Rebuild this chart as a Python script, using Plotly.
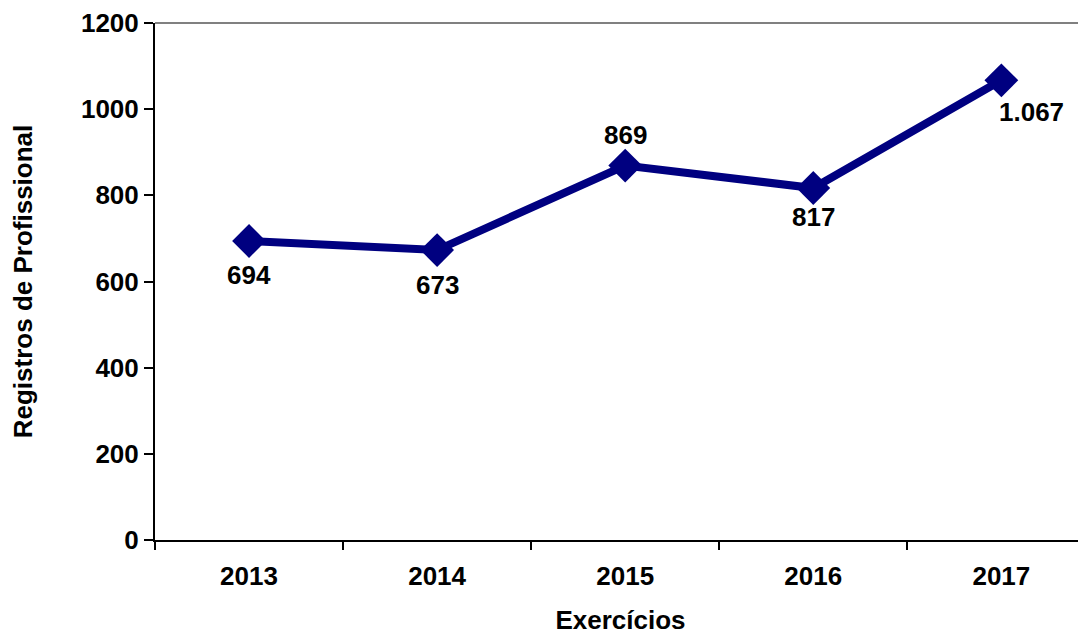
import plotly.graph_objects as go

years = ["2013", "2014", "2015", "2016", "2017"]
registros = [694, 673, 869, 817, 1067]
labels = ["694", "673", "869", "817", "1.067"]
label_dx = [0, 0, 0, 0, 30]
label_dy = [-34, -35, 31, -29, -32]
y_ticks = [0, 200, 400, 600, 800, 1000, 1200]

FONT = "Liberation Sans, Arial, sans-serif"

fig = go.Figure()
fig.add_trace(go.Scatter(
    x=years, y=registros, mode="lines+markers",
    line=dict(color="#000080", width=8),
    marker=dict(symbol="diamond", size=26, color="#000080"),
    hoverinfo="skip", showlegend=False,
))

for i, (y, t, dx, dy) in enumerate(zip(registros, labels, label_dx, label_dy)):
    fig.add_annotation(x=i, y=y, xref="x", yref="y", text="<b>" + t + "</b>",
                       showarrow=False, xshift=dx, yshift=dy,
                       font=dict(family=FONT, size=26, color="black"))

fig.add_shape(type="line", xref="paper", yref="paper", x0=0, x1=1, y0=1, y1=1,
              line=dict(color="#808080", width=2))

fig.update_layout(
    width=1078, height=627,
    margin=dict(l=147, r=0, t=15, b=95),
    plot_bgcolor="white", paper_bgcolor="white",
    font=dict(family=FONT, color="black"),
    xaxis=dict(
        type="category", range=[-0.5, 4.45], tickson="boundaries",
        ticks="outside", ticklen=8, tickwidth=2, tickcolor="black",
        showline=True, linecolor="black", linewidth=2, showgrid=False,
        tickfont=dict(size=26, family=FONT, weight="bold"),
        ticklabelstandoff=12,
        title=dict(text="<b>Exercícios</b>", font=dict(size=26, family=FONT), standoff=23),
        automargin=False,
    ),
    yaxis=dict(
        range=[0, 1200], tickvals=y_ticks,
        ticks="outside", ticklen=9, tickwidth=2, tickcolor="black",
        showline=True, linecolor="black", linewidth=2, showgrid=False, zeroline=False,
        tickfont=dict(size=26, family=FONT, weight="bold"),
        title=dict(text="<b>Registros de Profissional</b>", font=dict(size=26, family=FONT), standoff=43),
        automargin=False,
    ),
)

fig.write_html("out.html")
